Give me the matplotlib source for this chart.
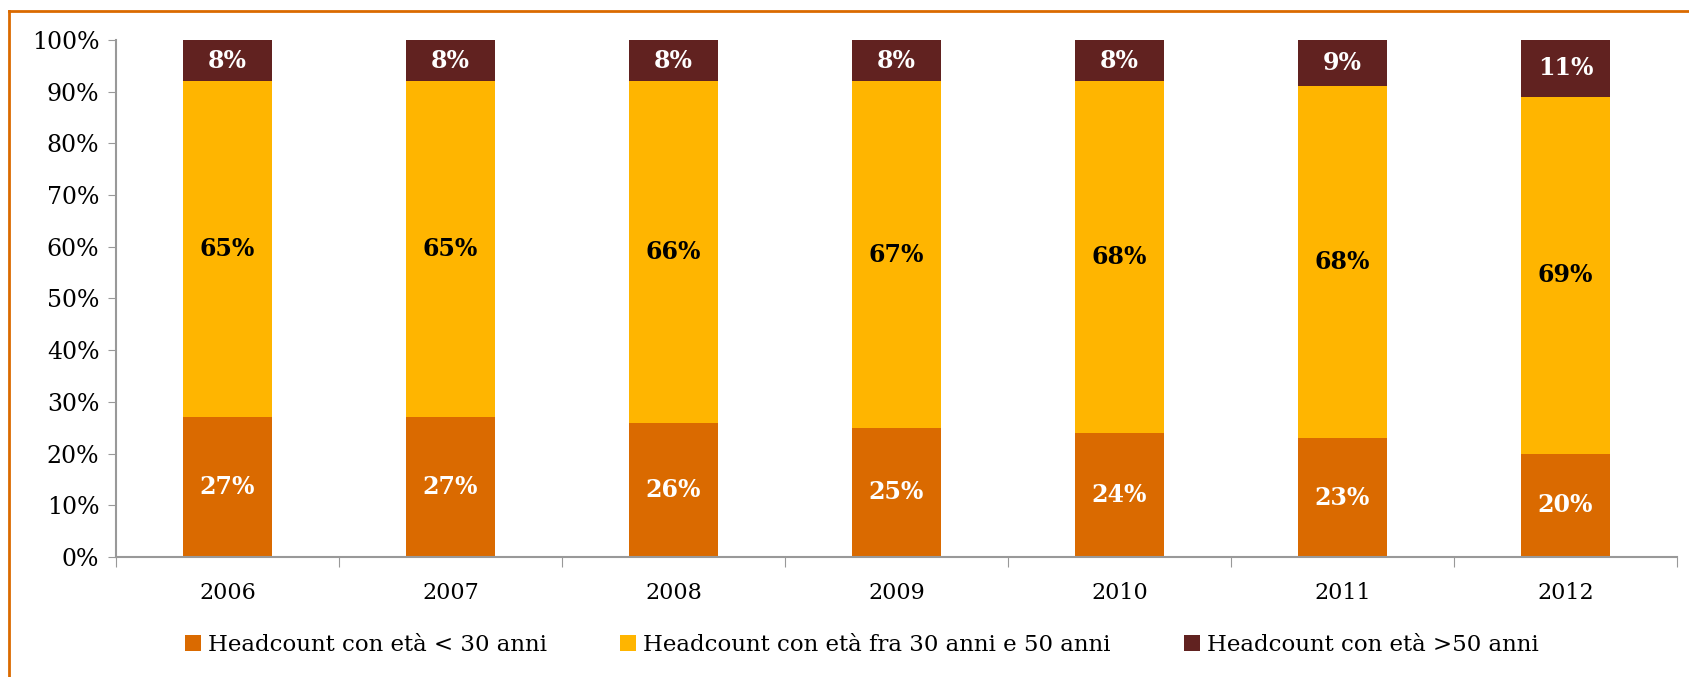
import numpy as np
import matplotlib
matplotlib.use("Agg")
import matplotlib.pyplot as plt
from matplotlib.lines import Line2D

# dati
anni = ["2006", "2007", "2008", "2009", "2010", "2011", "2012"]
sotto_30 = np.array([27, 27, 26, 25, 24, 23, 20])
fra_30_50 = np.array([65, 65, 66, 67, 68, 68, 69])
sopra_50 = np.array([8, 8, 8, 8, 8, 9, 11])
nomi = ["Headcount con età < 30 anni",
        "Headcount con età fra 30 anni e 50 anni",
        "Headcount con età >50 anni"]
colori = ["#DA6A00", "#FFB500", "#612220"]
col_testo = ["white", "black", "white"]

plt.rcParams['font.family'] = ['DejaVu Serif']

fig = plt.figure(figsize=(16.9, 6.77), dpi=100)
ax = fig.add_axes([0.0686, 0.1773, 0.9237, 0.7637])

x = np.arange(len(anni))
base = np.zeros(len(anni))
for serie, c, ct, nome in zip([sotto_30, fra_30_50, sopra_50], colori, col_testo, nomi):
    barre = ax.bar(x, serie, bottom=base, width=0.4, color=c, label=nome)
    for xi, b, v in zip(x, base, serie):
        ax.text(xi, b + v / 2, f"{v}%", ha='center', va='center',
                color=ct, fontsize=17, fontweight='bold')
    base = base + serie

ax.set_xlim(-0.5, len(anni) - 0.5)
ax.set_ylim(0, 100)
ax.set_yticks(range(0, 101, 10))
ax.set_yticklabels([f"{v}%" for v in range(0, 101, 10)], fontsize=17)
ax.set_xticks(np.arange(-0.5, len(anni), 1))
ax.set_xticklabels([])
ax.set_xticks(x, minor=True)
ax.set_xticklabels(anni, minor=True, fontsize=16)
ax.tick_params(axis='x', which='major', length=7, color='#999999')
ax.tick_params(axis='x', which='minor', length=0, pad=18)
ax.tick_params(axis='y', length=6, color='#999999', pad=6)
for s in ['top', 'right']:
    ax.spines[s].set_visible(False)
for s in ['left', 'bottom']:
    ax.spines[s].set_color('#999999')
    ax.spines[s].set_linewidth(1.5)

fig.legend(loc='center', bbox_to_anchor=(0.51, 0.047), ncol=3, frameon=False,
           fontsize=16.5, handlelength=0.7, handleheight=0.7, handletextpad=0.3,
           columnspacing=3.2)

# cornice arancione
fig.add_artist(Line2D([9 / 1690, 1], [1 - 11 / 677, 1 - 11 / 677],
                      transform=fig.transFigure, color='#DA6A00', lw=2))
fig.add_artist(Line2D([9 / 1690, 9 / 1690], [0, 1 - 11 / 677],
                      transform=fig.transFigure, color='#DA6A00', lw=2))

fig.savefig("out.png", dpi=100)
